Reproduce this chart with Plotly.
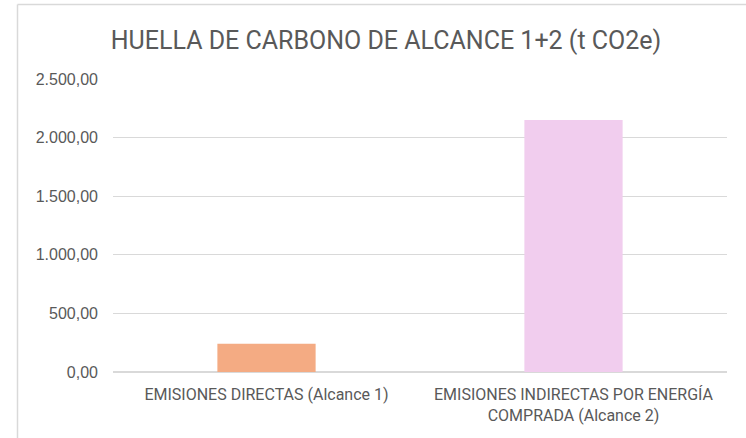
import plotly.graph_objects as go

categories = ["EMISIONES DIRECTAS (Alcance 1)", "EMISIONES INDIRECTAS POR ENERGÍA<br>COMPRADA (Alcance 2)"]
values = [240, 2150]
bar_colors = ["#F4AB83", "#F1CDEE"]
tick_vals = [0, 500, 1000, 1500, 2000, 2500]

W, H = 746, 438
L, R, T, B = 113, 19, 79, 66

fig = go.Figure(go.Bar(x=categories, y=values, marker=dict(color=bar_colors, line=dict(width=0)), width=0.32))

pw = W - L - R
ph = H - T - B
def px_x(p):
    return (p - L) / pw
def px_y(p):
    return (H - B - p) / ph

fig.update_layout(
    width=W, height=H,
    margin=dict(l=L, r=R, t=T, b=B),
    paper_bgcolor="white", plot_bgcolor="white",
    separators=",.",
    showlegend=False,
    title=dict(text="HUELLA DE CARBONO DE ALCANCE 1+2 (t CO2e)", x=(386) / W, xanchor="center",
               y=1 - 40 / H, yanchor="middle",
               font=dict(family="Roboto", size=25, color="#595959")),
    xaxis=dict(showgrid=False, showline=False, ticks="",
               ticklabelstandoff=11,
               tickfont=dict(family="Roboto", size=16, color="#595959")),
    yaxis=dict(range=[0, 2500], tickvals=tick_vals, tickformat=",.2f",
               showgrid=True, gridcolor="#D9D9D9", gridwidth=1,
               zeroline=True, zerolinecolor="#D9D9D9", zerolinewidth=1.5,
               ticklabelstandoff=14,
               tickfont=dict(family="Liberation Sans", size=16, color="#595959")),
    shapes=[
        dict(type="line", xref="paper", yref="paper", x0=px_x(17.5), x1=px_x(17.5), y0=px_y(4.5), y1=px_y(440),
             line=dict(color="#D9D9D9", width=1.5)),
        dict(type="line", xref="paper", yref="paper", x0=px_x(17.5), x1=px_x(748), y0=px_y(4.5), y1=px_y(4.5),
             line=dict(color="#D9D9D9", width=1.5)),
    ],
)

fig.write_html("out.html", config={"displayModeBar": False},
               post_script="document.body.style.margin='0';document.body.style.overflow='hidden';")
